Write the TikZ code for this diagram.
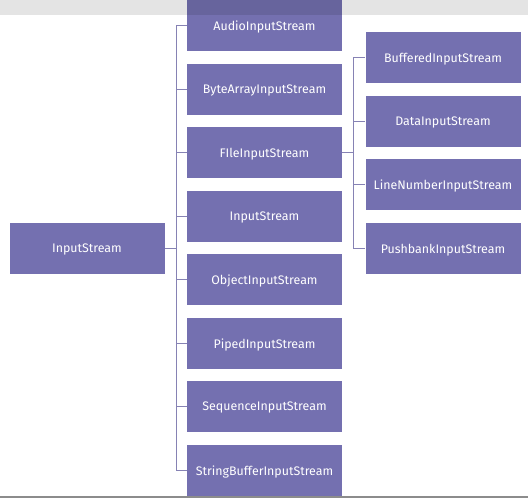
\documentclass[tikz,border=0pt]{standalone}
\usepackage{fontspec}
\setmainfont{Fira Sans}
\definecolor{boxfill}{HTML}{7470B0}
\definecolor{linkcol}{HTML}{8682B4}
\tikzset{
  cls/.style={fill=boxfill, text=white, minimum width=155pt, minimum height=51pt,
    inner sep=0pt, text depth=0pt, font=\fontsize{12.4}{14}\selectfont},
  link/.style={draw=linkcol, line width=1pt}
}
\begin{document}
\begin{tikzpicture}[x=1pt,y=-1pt]
			\useasboundingbox (0,0) rectangle (528,498);
			\fill [white] (0,0) rectangle (528,498);
			\node [cls] (root) at (87,248) {InputStream};
			\node [cls] (audio) at (264.5,25.5) {AudioInputStream};
			\node [cls] (bytearr) at (264.5,89.5) {ByteArrayInputStream};
			\node [cls] (file) at (264.5,152.5) {FIleInputStream};
			\node [cls] (input) at (264.5,216) {InputStream};
			\node [cls] (object) at (264.5,279.5) {ObjectInputStream};
			\node [cls] (piped) at (264.5,343.5) {PipedInputStream};
			\node [cls] (sequence) at (264.5,406.5) {SequenceInputStream};
			\node [cls] (strbuf) at (264.5,470.5) {StringBufferInputStream};
			\node [cls] (buffered) at (443,57.5) {BufferedInputStream};
			\node [cls] (data) at (443,121.5) {DataInputStream};
			\node [cls] (linenum) at (443,184.5) {LineNumberInputStream};
			\node [cls] (pushbank) at (443,248.5) {PushbankInputStream};
			\coordinate (j1) at (176,248);
			\coordinate (j2) at (353.5,152.5);
			\draw [link] (root.east) to (j1);
			\draw [link] (j1) |- (audio.west);
			\draw [link] (j1) |- (bytearr.west);
			\draw [link] (j1) |- (file.west);
			\draw [link] (j1) |- (input.west);
			\draw [link] (j1) |- (object.west);
			\draw [link] (j1) |- (piped.west);
			\draw [link] (j1) |- (sequence.west);
			\draw [link] (j1) |- (strbuf.west);
			\draw [link] (file.east) to (j2);
			\draw [link] (j2) |- (buffered.west);
			\draw [link] (j2) |- (data.west);
			\draw [link] (j2) |- (linenum.west);
			\draw [link] (j2) |- (pushbank.west);
			% grey strip across the top, grey rule at the bottom
			\fill [black, fill opacity=0.105] (0,0) rectangle (528,15);
			\draw [black!45, line width=1.2pt] (0,497) -- (528,497);
		\end{tikzpicture}
\end{document}
